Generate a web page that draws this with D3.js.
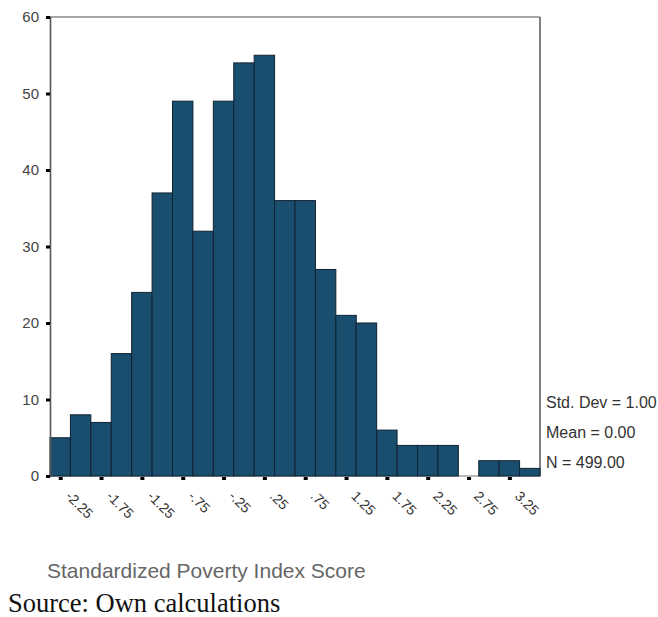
<!DOCTYPE html>
<html><head><meta charset="utf-8">
<script src="https://cdn.jsdelivr.net/npm/d3@7"></script>
<style>body{margin:0;background:#fff}svg{display:block}</style>
</head><body>
<svg id="c" width="658" height="617"></svg>
<script>
const binCenters = [-2.25,-2.0,-1.75,-1.5,-1.25,-1.0,-0.75,-0.5,-0.25,0.0,0.25,0.5,0.75,1.0,1.25,1.5,1.75,2.0,2.25,2.5,2.75,3.0,3.25,3.5];
const counts = [5,8,7,16,24,37,49,32,49,54,55,36,36,27,21,20,6,4,4,4,0,2,2,1];
const xTicks = [-2.25,-1.75,-1.25,-0.75,-0.25,0.25,0.75,1.25,1.75,2.25,2.75,3.25];
const xTickLabels = ["-2.25","-1.75","-1.25","-.75","-.25",".25",".75","1.25","1.75","2.25","2.75","3.25"];
const yTicks = [0,10,20,30,40,50,60];
const stats = ["Std. Dev = 1.00","Mean = 0.00","N = 499.00"];
const xTitle = "Standardized Poverty Index Score";
const source = "Source: Own calculations";
const binWidth = 0.25;

const svg = d3.select("#c");
const L=50, R=540, T=17, B=476;
const x = d3.scaleLinear().domain([-2.375,3.625]).range([L,R]);
const y = d3.scaleLinear().domain([0,60]).range([B,T]);

// frame
svg.append("line").attr("x1",L).attr("x2",R).attr("y1",T).attr("y2",T).attr("stroke","#8a8a8a").attr("stroke-width",1.5);
svg.append("line").attr("x1",R).attr("x2",R).attr("y1",T).attr("y2",B).attr("stroke","#555").attr("stroke-width",1.5);
svg.append("line").attr("x1",L).attr("x2",R).attr("y1",B).attr("y2",B).attr("stroke","#777").attr("stroke-width",1);

// bars
svg.append("g").selectAll("rect").data(counts).join("rect")
  .attr("x",(d,i)=>x(binCenters[i]-binWidth/2))
  .attr("width",(d,i)=>x(binCenters[i]+binWidth/2)-x(binCenters[i]-binWidth/2))
  .attr("y",d=>y(d)).attr("height",d=>B-y(d))
  .attr("fill","#1a4e6e").attr("stroke","#0f2233").attr("stroke-width",1);

// y axis
const ya = svg.append("g").attr("transform",`translate(${L},0)`)
  .call(d3.axisLeft(y).tickValues(yTicks).tickSize(4).tickPadding(7).tickFormat(d3.format("d")));
ya.select(".domain").attr("stroke","#555").attr("stroke-width",1.6);
ya.selectAll(".tick line").attr("stroke","#000").attr("stroke-width",3);
ya.selectAll(".tick text").attr("font-family","Arial, 'Liberation Sans', sans-serif").attr("font-size",15).attr("fill","#444");

// x axis
const xa = svg.append("g").attr("transform",`translate(0,${B})`)
  .call(d3.axisBottom(x).tickValues(xTicks).tickSize(4).tickFormat((d,i)=>xTickLabels[i]));
xa.select(".domain").remove();
xa.selectAll(".tick line").attr("stroke","#000").attr("stroke-width",4).attr("y1",1).attr("y2",4);
xa.selectAll(".tick text")
  .attr("font-family","Arial, 'Liberation Sans', sans-serif").attr("font-size",14).attr("fill","#333")
  .attr("text-anchor","start").attr("dy",0).attr("y",0)
  .attr("transform","translate(4,21) rotate(45)");

// stats
svg.append("g").selectAll("text").data(stats).join("text")
  .attr("x",546).attr("y",(d,i)=>408+i*30)
  .attr("font-family","Arial, 'Liberation Sans', sans-serif").attr("font-size",16).attr("fill","#333")
  .text(d=>d);

svg.append("text").attr("x",47).attr("y",578)
  .attr("font-family","Arial, 'Liberation Sans', sans-serif").attr("font-size",21).attr("fill","#666")
  .text(xTitle);
svg.append("text").attr("x",8).attr("y",612)
  .attr("font-family","'Liberation Serif', 'Times New Roman', serif").attr("font-size",26.5).attr("fill","#111")
  .text(source);
</script></body></html>
